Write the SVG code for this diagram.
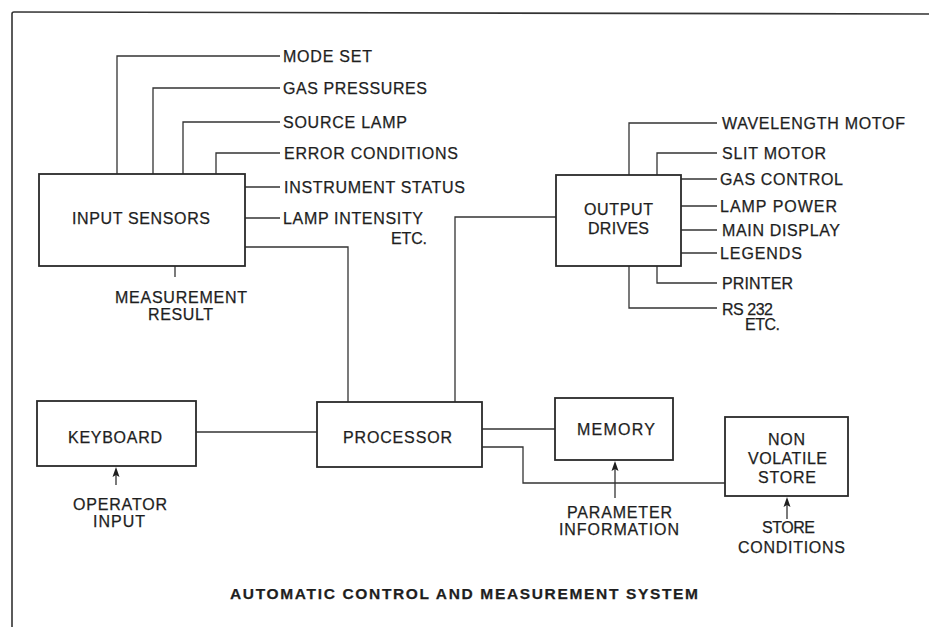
<svg xmlns="http://www.w3.org/2000/svg" width="929" height="627" viewBox="0 0 929 627">
<defs>
<style>
text{font-family:"Liberation Sans",Arial,sans-serif;font-size:16px;fill:#1e1e1e;stroke:#1e1e1e;stroke-width:0.25;}
.t{font-weight:bold;font-size:15.5px;}
.box{fill:none;stroke:#2a2a2a;stroke-width:1.8;}
.ln{fill:none;stroke:#333;stroke-width:1.3;}
.frame{fill:none;stroke:#333;stroke-width:1.6;}
.ah{fill:#1e1e1e;}
</style>
</defs>
<rect width="929" height="627" fill="#ffffff"/>
<path class="frame" d="M12,627 L12,14 Q12,12 14,12 L929,14"/>

<g id="connectors">
<path class="ln" d="M117,174 V56 H280"/>
<path class="ln" d="M153,174 V88 H280"/>
<path class="ln" d="M183,174 V122 H280"/>
<path class="ln" d="M216,174 V153 H280"/>
<path class="ln" d="M245,187 H280"/>
<path class="ln" d="M245,218 H280"/>
<path class="ln" d="M175,266 V277"/>
<path class="ln" d="M245,247 H348 V402"/>
<path class="ln" d="M556,217 H455 V402"/>
<path class="ln" d="M629,175 V123 H717"/>
<path class="ln" d="M657,175 V153 H717"/>
<path class="ln" d="M681,179 H717"/>
<path class="ln" d="M681,206 H717"/>
<path class="ln" d="M681,230 H717"/>
<path class="ln" d="M681,253 H717"/>
<path class="ln" d="M657,266 V283 H717"/>
<path class="ln" d="M629,266 V308 H717"/>
<path class="ln" d="M196,432 H317"/>
<path class="ln" d="M482,429 H555"/>
<path class="ln" d="M482,447 H523 V483 H725"/>
<path class="ln" d="M116,485 V472"/>
<path class="ah" d="M116,467 L119.5,477 L116,475 L112.5,477 Z"/>
<path class="ln" d="M615,498 V466"/>
<path class="ah" d="M615,461 L618.5,471 L615,469 L611.5,471 Z"/>
<path class="ln" d="M787,519 V502"/>
<path class="ah" d="M787,497 L790.5,507 L787,505 L783.5,507 Z"/>
</g>

<g id="input-sensors">
<rect class="box" x="39" y="174" width="206" height="92"/>
<text x="72" y="224" textLength="138" lengthAdjust="spacing">INPUT SENSORS</text>
</g>
<g id="input-labels">
<text x="283" y="62" textLength="89" lengthAdjust="spacing">MODE SET</text>
<text x="283" y="94" textLength="144" lengthAdjust="spacing">GAS PRESSURES</text>
<text x="283" y="128" textLength="124" lengthAdjust="spacing">SOURCE LAMP</text>
<text x="284" y="159" textLength="174" lengthAdjust="spacing">ERROR CONDITIONS</text>
<text x="284" y="193" textLength="181" lengthAdjust="spacing">INSTRUMENT STATUS</text>
<text x="283" y="224" textLength="140" lengthAdjust="spacing">LAMP INTENSITY</text>
<text x="391" y="244" textLength="36" lengthAdjust="spacing">ETC.</text>
<text x="115" y="303" textLength="132" lengthAdjust="spacing">MEASUREMENT</text>
<text x="148" y="320" textLength="65" lengthAdjust="spacing">RESULT</text>
</g>

<g id="output-drives">
<rect class="box" x="556" y="175" width="125" height="91"/>
<text x="584" y="215" textLength="69" lengthAdjust="spacing">OUTPUT</text>
<text x="588" y="234" textLength="61" lengthAdjust="spacing">DRIVES</text>
</g>
<g id="output-labels">
<text x="722" y="129" textLength="183" lengthAdjust="spacing">WAVELENGTH MOTOF</text>
<text x="722" y="159" textLength="104" lengthAdjust="spacing">SLIT MOTOR</text>
<text x="720" y="185" textLength="123" lengthAdjust="spacing">GAS CONTROL</text>
<text x="720" y="212" textLength="117" lengthAdjust="spacing">LAMP POWER</text>
<text x="722" y="236" textLength="118" lengthAdjust="spacing">MAIN DISPLAY</text>
<text x="720" y="259" textLength="82" lengthAdjust="spacing">LEGENDS</text>
<text x="722" y="289" textLength="71" lengthAdjust="spacing">PRINTER</text>
<text x="722" y="315" textLength="51" lengthAdjust="spacing">RS 232</text>
<text x="745" y="330" textLength="35" lengthAdjust="spacing">ETC.</text>
</g>

<g id="keyboard">
<rect class="box" x="37" y="401" width="159" height="65"/>
<text x="68" y="443" textLength="94" lengthAdjust="spacing">KEYBOARD</text>
<text x="73" y="510" textLength="94" lengthAdjust="spacing">OPERATOR</text>
<text x="93" y="527" textLength="52" lengthAdjust="spacing">INPUT</text>
</g>

<g id="processor">
<rect class="box" x="317" y="402" width="165" height="65"/>
<text x="343" y="443" textLength="109" lengthAdjust="spacing">PROCESSOR</text>
</g>

<g id="memory">
<rect class="box" x="555" y="398" width="118" height="62"/>
<text x="577" y="435" textLength="78" lengthAdjust="spacing">MEMORY</text>
<text x="567" y="518" textLength="105" lengthAdjust="spacing">PARAMETER</text>
<text x="559" y="535" textLength="120" lengthAdjust="spacing">INFORMATION</text>
</g>

<g id="non-volatile-store">
<rect class="box" x="725" y="417" width="123" height="79"/>
<text x="768" y="445" textLength="37" lengthAdjust="spacing">NON</text>
<text x="748" y="464" textLength="79" lengthAdjust="spacing">VOLATILE</text>
<text x="758" y="483" textLength="58" lengthAdjust="spacing">STORE</text>
<text x="762" y="533" textLength="53" lengthAdjust="spacing">STORE</text>
<text x="738" y="553" textLength="107" lengthAdjust="spacing">CONDITIONS</text>
</g>

<g id="title">
<text class="t" x="230" y="599" textLength="468" lengthAdjust="spacing">AUTOMATIC CONTROL AND MEASUREMENT SYSTEM</text>
</g>
</svg>
